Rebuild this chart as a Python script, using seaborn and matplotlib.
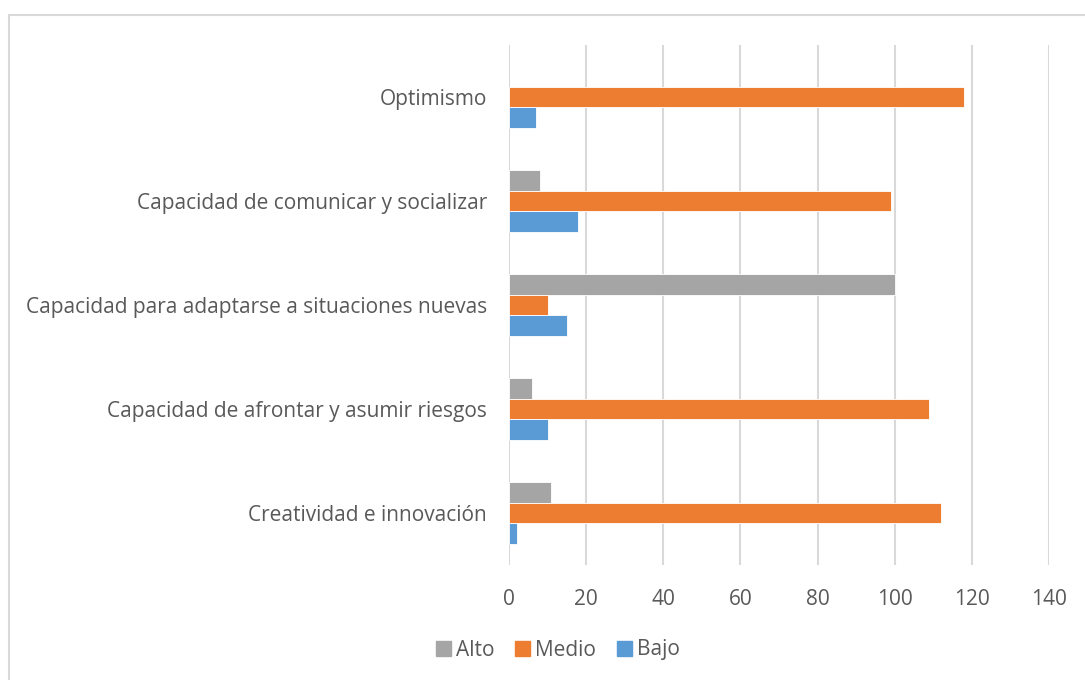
import matplotlib
matplotlib.use("Agg")
import matplotlib.pyplot as plt
import seaborn as sns
import pandas as pd
from matplotlib.patches import Rectangle

categories = [
    "Optimismo",
    "Capacidad de comunicar y socializar",
    "Capacidad para adaptarse a situaciones nuevas",
    "Capacidad de afrontar y asumir riesgos",
    "Creatividad e innovación",
]
series_names = ["Alto", "Medio", "Bajo"]
alto = [0, 8, 100, 6, 11]
medio = [118, 99, 10, 109, 112]
bajo = [7, 18, 15, 10, 2]
x_ticks = [0, 20, 40, 60, 80, 100, 120, 140]

colors = {"Alto": "#A5A5A5", "Medio": "#ED7D31", "Bajo": "#5B9BD5"}
text_color = "#595959"

rows = []
for name, vals in zip(series_names, [alto, medio, bajo]):
    for c, v in zip(categories, vals):
        rows.append({"Categoria": c, "Nivel": name, "Valor": v})
df = pd.DataFrame(rows)

sns.set_theme(style="white")
plt.rcParams["font.family"] = ["Open Sans", "DejaVu Sans"]

fs = 15
fig = plt.figure(figsize=(10.85, 6.8), dpi=100)
ax = fig.add_axes([509 / 1085, 1 - 565 / 680, (1049 - 509) / 1085, (565 - 45) / 680])

sns.barplot(
    data=df, x="Valor", y="Categoria", hue="Nivel",
    order=categories, hue_order=series_names, palette=colors,
    orient="h", width=0.6, ax=ax, errorbar=None,
    edgecolor="white", linewidth=0.6, saturation=1,
)
for p in ax.patches:
    if p.get_width() == 0:
        p.set_visible(False)

ax.set_xlim(0, 140)
ax.set_xticks(x_ticks)
ax.set_ylim(len(categories) - 0.5, -0.5)
ax.grid(axis="x", color="#D9D9D9", linewidth=1.5)
ax.set_axisbelow(True)
for s in ax.spines.values():
    s.set_visible(False)
ax.tick_params(axis="both", length=0, labelsize=fs, labelcolor=text_color)
ax.tick_params(axis="x", pad=17)
ax.tick_params(axis="y", pad=16)
ax.set_xlabel("")
ax.set_ylabel("")

ax.get_legend().remove()
handles = [Rectangle((0, 0), 1, 1, color=colors[n]) for n in series_names]
fig.legend(handles, series_names, loc="center", bbox_to_anchor=(558 / 1085, 1 - 650 / 680),
           ncol=3, frameon=False, fontsize=fs, labelcolor=text_color,
           handlelength=0.7, handleheight=0.7, handletextpad=0.25, columnspacing=1.0)

fig.patches.append(Rectangle((9 / 1085, -0.01), 1.1, 1 - 15 / 680 + 0.01,
                             transform=fig.transFigure, fill=False,
                             edgecolor="#D9D9D9", linewidth=1.5))

fig.savefig("out.png", dpi=100, facecolor="white")
